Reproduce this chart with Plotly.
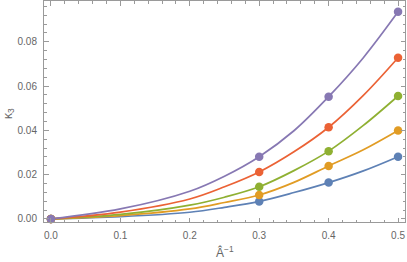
import plotly.graph_objects as go

# Marker data
x_pts = [0.0, 0.3, 0.4, 0.5]
blue_pts = [0.0, 0.0079, 0.0164, 0.0281]
orange_pts = [0.0, 0.0108, 0.0239, 0.0399]
green_pts = [0.0, 0.0145, 0.0306, 0.0555]
red_pts = [0.0, 0.0212, 0.0414, 0.0728]
purple_pts = [0.0, 0.0281, 0.0552, 0.0935]

# Fitted curves
x_curve = [0.0, 0.1, 0.2, 0.25, 0.3, 0.35, 0.4, 0.45, 0.5]
blue_curve = [0.0, 0.0010, 0.0030, 0.0052, 0.0079, 0.0119, 0.0164, 0.0217, 0.0281]
orange_curve = [0.0, 0.0015, 0.0045, 0.0074, 0.0108, 0.0165, 0.0239, 0.0312, 0.0399]
green_curve = [0.0, 0.0020, 0.0062, 0.0098, 0.0145, 0.0218, 0.0306, 0.0422, 0.0555]
red_curve = [0.0, 0.0031, 0.0090, 0.0145, 0.0212, 0.0303, 0.0414, 0.0558, 0.0728]
purple_curve = [0.0, 0.0045, 0.0125, 0.0193, 0.0281, 0.0398, 0.0552, 0.0728, 0.0935]

x_ticks = [0.0, 0.1, 0.2, 0.3, 0.4, 0.5]
x_ticklabels = ["0.0", "0.1", "0.2", "0.3", "0.4", "0.5"]
y_ticks = [0.0, 0.02, 0.04, 0.06, 0.08]
y_ticklabels = ["0.00", "0.02", "0.04", "0.06", "0.08"]
x_title = "Â<sup>−1</sup>"
y_title = "κ<sub>3</sub>"

series = [
    (blue_curve, blue_pts, "#5E81B5"),
    (orange_curve, orange_pts, "#E19C24"),
    (green_curve, green_pts, "#8FB032"),
    (red_curve, red_pts, "#EB6235"),
    (purple_curve, purple_pts, "#8778B3"),
]

fig = go.Figure()
for curve, pts, col in series:
    fig.add_trace(go.Scatter(x=x_curve, y=curve, mode="lines",
                             line=dict(color=col, width=1.7, shape="spline", smoothing=1.0),
                             showlegend=False, hoverinfo="skip"))
for curve, pts, col in series:
    fig.add_trace(go.Scatter(x=x_pts, y=pts, mode="markers",
                             marker=dict(color=col, size=8.5),
                             showlegend=False, cliponaxis=False))

axis_col = "#9a9a9a"
font_col = "#666666"
fnt = "Liberation Sans, Arial, sans-serif"
common = dict(showgrid=False, zeroline=False, showline=True, linecolor=axis_col, linewidth=1,
              mirror="allticks", ticks="inside", ticklen=4.5, tickcolor=axis_col, tickwidth=1,
              automargin=False,
              tickfont=dict(family=fnt, size=10, color=font_col))

fig.update_xaxes(range=[-0.01, 0.51], tickvals=x_ticks, ticktext=x_ticklabels,
                 ticklabelstandoff=4,
                 minor=dict(ticks="inside", ticklen=2.5, dtick=0.02, tick0=0, tickcolor=axis_col, showgrid=False),
                 **common)
fig.update_yaxes(range=[-0.0014, 0.0984], tickvals=y_ticks, ticktext=y_ticklabels,
                 ticklabelstandoff=4,
                 minor=dict(ticks="inside", ticklen=2.5, dtick=0.004, tick0=0, tickcolor=axis_col, showgrid=False),
                 **common)

fig.add_annotation(text=x_title, xref="paper", yref="paper", x=0.501, y=-0.136,
                   xanchor="center", yanchor="middle", showarrow=False,
                   font=dict(family=fnt, size=12, color=font_col))
fig.add_annotation(text=y_title, xref="paper", yref="paper", x=-0.097, y=0.493,
                   xanchor="center", yanchor="middle", showarrow=False, textangle=-90,
                   font=dict(family=fnt, size=12, color=font_col))

fig.update_layout(width=407, height=262, margin=dict(l=44, r=2, t=1, b=40),
                  plot_bgcolor="white", paper_bgcolor="white")

fig.write_html("out.html", config={"displayModeBar": False},
               post_script="document.body.style.margin='0';document.body.style.padding='0';")
